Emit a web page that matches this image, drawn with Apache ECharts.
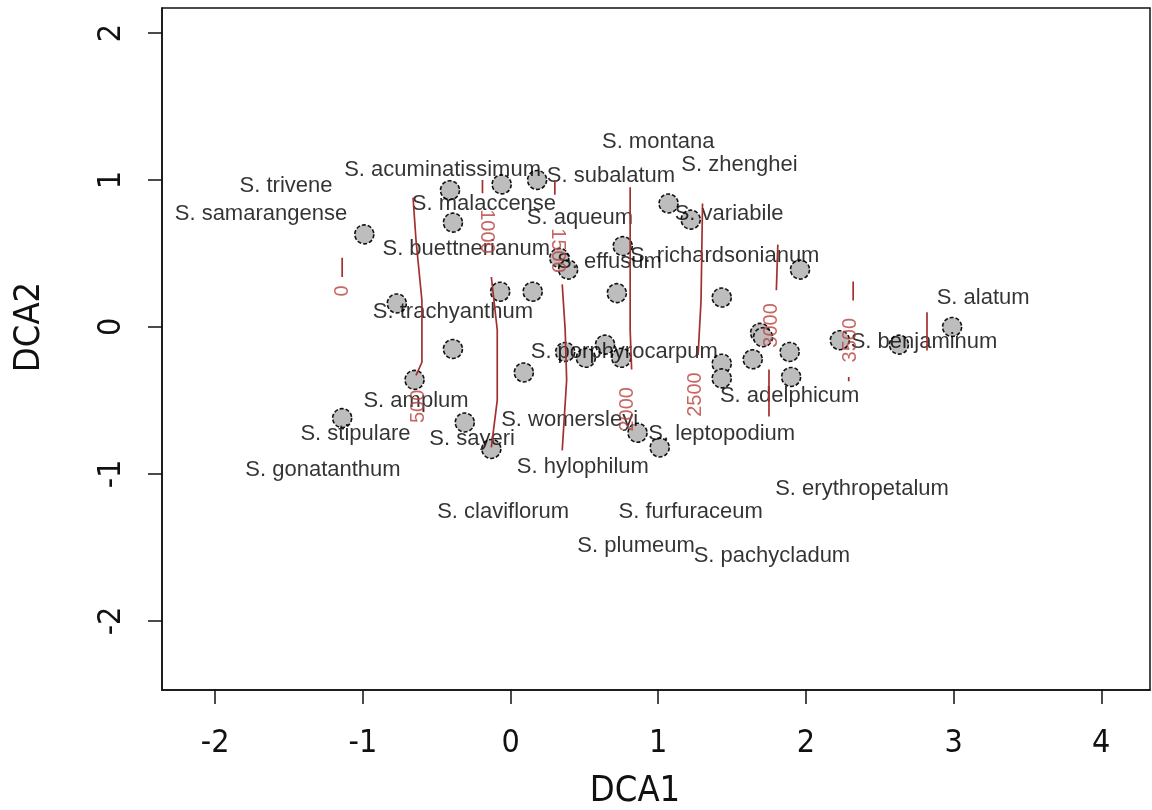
<!DOCTYPE html>
<html><head><meta charset="utf-8">
<script src="https://cdn.jsdelivr.net/npm/echarts@6/dist/echarts.min.js"></script>
<style>html,body{margin:0;padding:0;background:#fff}#c{width:1152px;height:810px}</style>
</head><body><div id="c"></div>
<script>
// ---- data ----
const xTicks = [-2, -1, 0, 1, 2, 3, 4];
const yTicks = [-2, -1, 0, 1, 2];

// site scores (grey points)
const siteX = [-0.99,-0.41,-0.06,0.18,-0.39,-0.77,-0.07,0.15,0.72,0.33,0.39,0.76,1.07,1.22,1.43,1.96,-0.39,-0.65,-1.14,-0.31,-0.13,0.09,0.37,0.51,0.64,0.75,0.86,1.01,1.43,1.43,1.69,1.71,1.64,1.89,1.90,2.23,2.63,2.99];
const siteY = [0.63,0.93,0.97,1.00,0.71,0.16,0.24,0.24,0.23,0.47,0.39,0.55,0.84,0.73,0.20,0.39,-0.15,-0.36,-0.62,-0.65,-0.83,-0.31,-0.17,-0.21,-0.12,-0.21,-0.72,-0.82,-0.25,-0.35,-0.04,-0.07,-0.22,-0.17,-0.34,-0.09,-0.12,0.00];

// species scores (text labels)
const speciesNames = ["S. montana","S. acuminatissimum","S. zhenghei","S. subalatum","S. trivene","S. samarangense","S. malaccense","S. aqueum","S. variabile","S. buettnerianum","S. richardsonianum","S. effusum","S. alatum","S. trachyanthum","S. porphyrocarpum","S. benjaminum","S. adelphicum","S. amplum","S. womersleyi","S. stipulare","S. sayeri","S. leptopodium","S. gonatanthum","S. hylophilum","S. erythropetalum","S. claviflorum","S. furfuraceum","S. plumeum","S. pachycladum"];
const speciesX = [1.00,-0.46,1.55,0.68,-1.52,-1.69,-0.18,0.47,1.48,-0.30,1.45,0.67,3.20,-0.39,0.77,2.80,1.89,-0.64,0.40,-1.05,-0.26,1.43,-1.27,0.49,2.38,-0.05,1.22,0.85,1.77];
const speciesY = [1.26,1.07,1.10,1.03,0.96,0.77,0.84,0.74,0.77,0.53,0.48,0.44,0.20,0.10,-0.17,-0.10,-0.47,-0.50,-0.63,-0.73,-0.76,-0.73,-0.97,-0.95,-1.10,-1.26,-1.26,-1.49,-1.56];

// fitted surface contour segments (DCA1, DCA2)
const contour0     = [[-1.14,0.47],[-1.14,0.34]];
const contour500   = [[-0.66,0.88],[-0.64,0.59],[-0.60,0.18],[-0.60,-0.24],[-0.64,-0.33]];
const contour1000a = [[-0.19,1.00],[-0.19,0.91]];
const contour1000b = [[-0.13,0.34],[-0.09,-0.02],[-0.09,-0.50],[-0.13,-0.82]];
const contour1500a = [[0.30,1.00],[0.30,0.90]];
const contour1500b = [[0.35,0.29],[0.37,-0.02],[0.38,-0.36],[0.35,-0.84]];
const contour2000  = [[0.81,0.95],[0.81,0.46],[0.81,-0.02],[0.82,-0.29]];
const contour2500  = [[1.30,0.84],[1.29,0.18],[1.27,-0.19]];
const contour3000a = [[1.81,0.56],[1.80,0.25]];
const contour3000b = [[1.75,-0.29],[1.75,-0.61]];
const contour3500a = [[2.32,0.31],[2.32,0.18]];
const contour3500b = [[2.29,-0.34],[2.29,-0.37]];
const contour4000  = [[2.82,0.10],[2.82,-0.16]];
const contourLabels = ["0","500","1000","1500","2000","2500","3000","3500"];
const contourLabelX = [-1.14,-0.62,-0.16,0.32,0.79,1.25,1.77,2.30];
const contourLabelY = [0.245,-0.54,0.65,0.52,-0.56,-0.46,0.01,-0.09];

// ---- chart ----
const sans = '"Liberation Sans", Arial, sans-serif';
const narrow = '"Liberation Sans Narrow", "DejaVu Sans Condensed", "Liberation Sans", Arial, sans-serif';
const ink = '#111';
const contourColor = '#a3302f';
const topDown = new Set(["1000","1500"]);

const segments = [contour0,contour500,contour1000a,contour1000b,contour1500a,contour1500b,contour2000,contour2500,contour3000a,contour3000b,contour3500a,contour3500b,contour4000];

const series = [
  {
    type: 'scatter', z: 2, silent: true,
    data: siteX.map((x, i) => [x, siteY[i]]),
    symbol: 'circle', symbolSize: 19,
    itemStyle: { color: '#bdbdbd', borderColor: ink, borderWidth: 1.6, borderType: [4, 2], opacity: 1 }
  },
  {
    type: 'scatter', z: 3, silent: true,
    data: speciesNames.map((n, i) => [speciesX[i], speciesY[i], n]),
    symbolSize: 1,
    itemStyle: { color: 'rgba(0,0,0,0)' },
    label: { show: true, position: 'inside', formatter: p => p.value[2], fontFamily: sans, fontSize: 22, color: '#000' }
  }
];
segments.forEach(seg => series.push({
  type: 'line', z: 4, silent: true, data: seg, showSymbol: false, symbol: 'none',
  lineStyle: { color: contourColor, width: 1.7 }
}));
series.push({
  type: 'scatter', z: 5, silent: true,
  data: contourLabels.map((t, i) => ({
    value: [contourLabelX[i], contourLabelY[i], t],
    label: { rotate: topDown.has(t) ? -90 : 90 }
  })),
  symbolSize: 1,
  itemStyle: { color: 'rgba(0,0,0,0)' },
  label: { show: true, position: 'inside', formatter: p => p.value[2], fontFamily: sans, fontSize: 20, color: '#b8403c' }
});

const option = {
  animation: false,
  backgroundColor: '#fff',
  grid: { left: 162, right: 2, top: 8, bottom: 120, outerBoundsMode: 'none', containLabel: false, show: true, borderColor: ink, borderWidth: 1.5, backgroundColor: 'transparent' },
  xAxis: {
    type: 'value', min: -2.36, max: 4.33,
    name: 'DCA1', nameLocation: 'middle', nameGap: 84,
    nameTextStyle: { fontFamily: narrow, fontSize: 36, color: ink, padding: [0, 42, 0, 0] },
    axisLine: { show: true, onZero: false, lineStyle: { color: ink, width: 1.5 } },
    axisTick: { show: true, inside: false, length: 14, customValues: xTicks, lineStyle: { color: ink, width: 1.5 } },
    axisLabel: { customValues: xTicks, margin: 38, fontFamily: narrow, fontSize: 32, color: ink },
    splitLine: { show: false }
  },
  yAxis: {
    type: 'value', min: -2.47, max: 2.17,
    name: 'DCA2', nameLocation: 'middle', nameGap: 114, nameRotate: 90,
    nameTextStyle: { fontFamily: narrow, fontSize: 36, color: ink, padding: [0, 0, 0, 44] },
    axisLine: { show: true, onZero: false, lineStyle: { color: ink, width: 1.5 } },
    axisTick: { show: true, inside: false, length: 14, customValues: yTicks, lineStyle: { color: ink, width: 1.5 } },
    axisLabel: { customValues: yTicks, rotate: 90, margin: 34, fontFamily: narrow, fontSize: 32, color: ink },
    splitLine: { show: false }
  },
  series: series
};
const chart = echarts.init(document.getElementById('c'));
chart.setOption(option);
</script>
</body></html>
